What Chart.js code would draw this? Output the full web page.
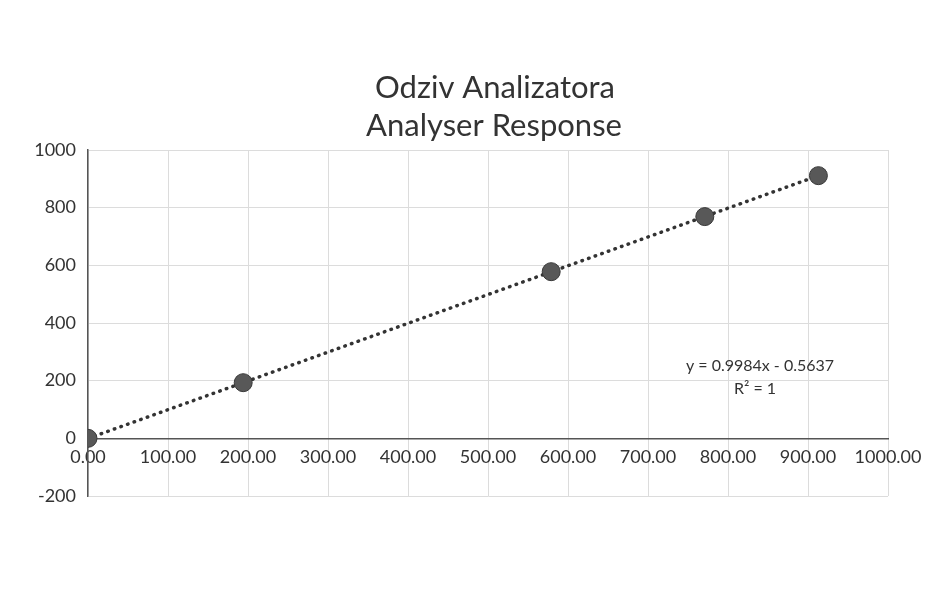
<!DOCTYPE html>
<html>
<head>
<meta charset="utf-8">
<script src="https://cdn.jsdelivr.net/npm/chart.js@4.4.0/dist/chart.umd.min.js"></script>
<style>
  html, body { margin: 0; padding: 0; background: #fff; }
  #wrap { width: 950px; height: 591px; }
</style>
</head>
<body>
<div id="wrap"><canvas id="myChart" width="950" height="591"></canvas></div>
<script>
const xValues = [0, 194, 579, 771, 913];
const yValues = [0, 193, 578, 769, 911];
// dotted trend line ends (from the fitted equation on the chart)
const trendX = [0, 913];
const trendY = [-0.56, 911];
const titleLines = ['Odziv Analizatora', 'Analyser Response'];
const equationLines = ['y = 0.9984x - 0.5637', 'R² = 1'];

const points = xValues.map((x, i) => ({ x: x, y: yValues[i] }));
const trend = trendX.map((x, i) => ({ x: x, y: trendY[i] }));

// title and equation drawn by hand so they sit where the scan has them
const textLayer = {
  id: 'textLayer',
  afterDatasetsDraw(chart) {
    const ctx = chart.ctx;
    const xs = chart.scales.x;
    const ys = chart.scales.y;
    ctx.save();
    ctx.fillStyle = '#333';
    ctx.textAlign = 'center';
    ctx.textBaseline = 'middle';

    ctx.font = '31px Lato';
    ctx.fillText(titleLines[0], 495, 88);
    ctx.fillText(titleLines[1], 494, 126);

    const cx = xs.getPixelForValue(840);
    const cy = ys.getPixelForValue(250);
    ctx.font = '16px Lato';
    ctx.fillText(equationLines[0], cx, cy);
    ctx.fillText(equationLines[1], cx - 5, cy + 23);
    ctx.restore();
  }
};

const myChart = document.getElementById('myChart');
new Chart(myChart, {
  type: 'scatter',
  data: {
    datasets: [
      {
        label: 'Odziv',
        data: points,
        pointRadius: 9,
        pointHoverRadius: 9,
        backgroundColor: '#585858',
        borderColor: '#383838',
        borderWidth: 1,
        order: 1
      },
      {
        label: 'Trend',
        type: 'line',
        data: trend,
        showLine: true,
        pointRadius: 0,
        borderColor: '#333',
        borderWidth: 3.5,
        borderDash: [0.5, 6.5],
        borderCapStyle: 'round',
        fill: false,
        order: 2
      }
    ]
  },
  options: {
    responsive: false,
    animation: false,
    layout: { padding: { left: 14, right: 62, top: 150, bottom: 95 } },
    plugins: {
      legend: { display: false },
      tooltip: { enabled: false },
      title: { display: false }
    },
    scales: {
      x: {
        type: 'linear',
        position: { y: 0 },
        min: 0,
        max: 1000,
        ticks: {
          stepSize: 100,
          color: '#333',
          font: { family: 'Lato', size: 18 },
          maxRotation: 0,
          padding: 8,
          callback: v => v.toFixed(2)
        },
        grid: { color: '#dcdcdc', drawTicks: false },
        border: { color: '#555', width: 1.5 }
      },
      y: {
        type: 'linear',
        min: -200,
        max: 1000,
        afterFit: s => { s.width = 74; },
        ticks: {
          stepSize: 200,
          color: '#333',
          font: { family: 'Lato', size: 18 },
          padding: 12,
          callback: v => String(v)
        },
        grid: { color: '#dcdcdc', drawTicks: false },
        border: { color: '#555', width: 1.5 }
      }
    }
  },
  plugins: [textLayer]
});
</script>
</body>
</html>
